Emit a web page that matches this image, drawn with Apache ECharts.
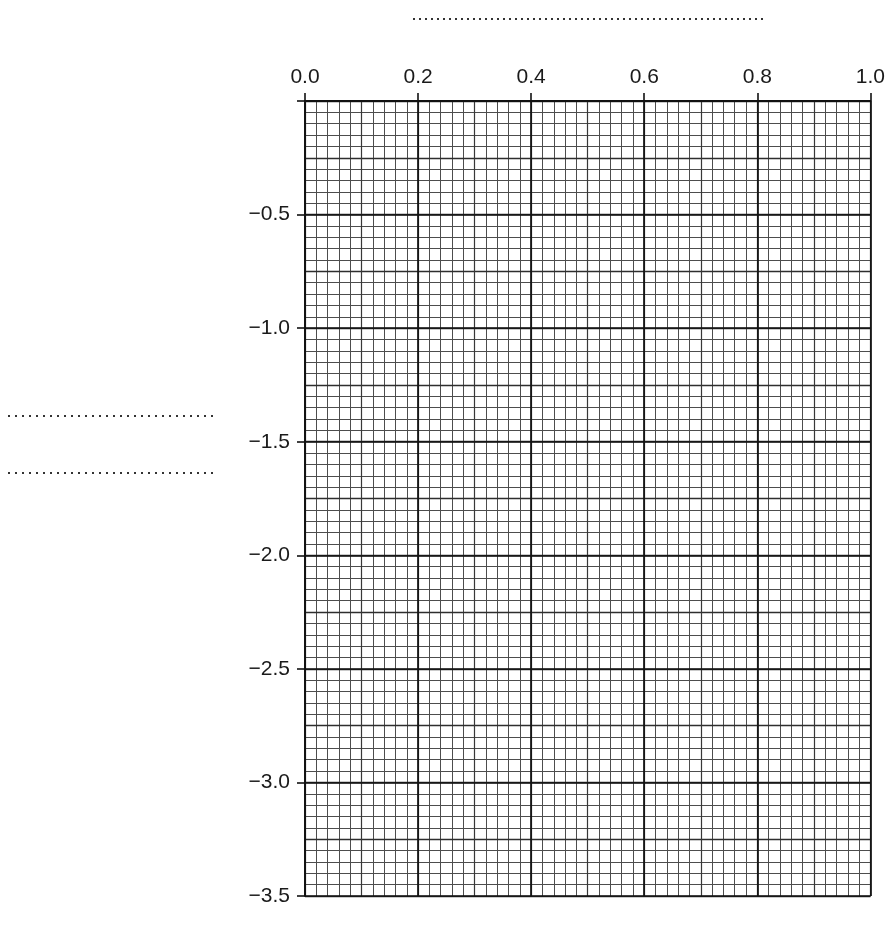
<!DOCTYPE html>
<html>
<head>
<meta charset="utf-8">
<style>
  html, body { margin: 0; padding: 0; background: #fff; }
  #main { width: 888px; height: 927px; }
</style>
<script src="https://cdn.jsdelivr.net/npm/echarts@6/dist/echarts.min.js"></script>
</head>
<body>
<div id="main"></div>
<script>
// axis ranges
var xRange = [0, 1];
var yRange = [-3.5, 0];
// grid steps: major, medium, minor
var xSteps = [0.2, 0.1, 0.02];
var ySteps = [0.5, 0.25, 0.05];
// tick labels
var xTickLabels = ["0.0", "0.2", "0.4", "0.6", "0.8", "1.0"];
var yTickLabels = ["", "\u22120.5", "\u22121.0", "\u22121.5", "\u22122.0", "\u22122.5", "\u22123.0", "\u22123.5"];

var font = "'Liberation Sans', Arial, Helvetica, sans-serif";

// 隐藏的辅助轴，只用来画网格线
function gridAxis(range, step, color, width, z, pos) {
  return {
    type: "value",
    min: range[0],
    max: range[1],
    interval: step,
    position: pos,
    z: z,
    axisLine: { show: false },
    axisTick: { show: false },
    axisLabel: { show: false },
    splitLine: { show: true, lineStyle: { color: color, width: width } },
  };
}

var xMain = {
  type: "value",
  min: xRange[0],
  max: xRange[1],
  interval: xSteps[0],
  position: "top",
  z: 5,
  axisLine: { show: true, lineStyle: { color: "#111", width: 1.8 } },
  axisTick: { show: true, length: 8, lineStyle: { color: "#111", width: 1.6 } },
  axisLabel: {
    show: true,
    margin: 13,
    color: "#1a1a1a",
    fontSize: 21,
    fontFamily: font,
    formatter: function (v) {
      return xTickLabels[Math.round((v - xRange[0]) / xSteps[0])];
    },
  },
  splitLine: { show: true, lineStyle: { color: "#111", width: 1.7 } },
};

var yMain = {
  type: "value",
  min: yRange[0],
  max: yRange[1],
  interval: ySteps[0],
  position: "left",
  z: 5,
  axisLine: { show: true, lineStyle: { color: "#111", width: 1.8 } },
  axisTick: { show: true, length: 8, lineStyle: { color: "#111", width: 1.6 } },
  axisLabel: {
    show: true,
    margin: 15,
    color: "#1a1a1a",
    fontSize: 21,
    fontFamily: font,
    formatter: function (v) {
      return yTickLabels[Math.round((yRange[1] - v) / ySteps[0])];
    },
  },
  splitLine: { show: true, lineStyle: { color: "#111", width: 1.7 } },
};

var myChart = echarts.init(document.getElementById("main"));
var option = {
  backgroundColor: "#fff",
  animation: false,
  grid: { left: 305, right: 16, top: 101, bottom: 31, containLabel: false },
  xAxis: [
    xMain,
    gridAxis(xRange, xSteps[1], "#383838", 1.2, 3, "top"),
    gridAxis(xRange, xSteps[2], "#4d4d4d", 1, 1, "top"),
  ],
  yAxis: [
    yMain,
    gridAxis(yRange, ySteps[1], "#2e2e2e", 1.3, 3, "left"),
    gridAxis(yRange, ySteps[2], "#4d4d4d", 1, 1, "left"),
  ],
  series: [
    { type: "scatter", xAxisIndex: 0, yAxisIndex: 0, data: [] },
    { type: "scatter", xAxisIndex: 1, yAxisIndex: 1, data: [] },
    { type: "scatter", xAxisIndex: 2, yAxisIndex: 2, data: [] },
  ],
  // 填写用的虚线（标题、轴名）
  graphic: [
    {
      type: "line",
      shape: { x1: 413, y1: 19, x2: 766, y2: 19 },
      style: { stroke: "#333", lineWidth: 2, lineDash: [2, 4] },
    },
    {
      type: "line",
      shape: { x1: 8, y1: 416, x2: 213, y2: 416 },
      style: { stroke: "#333", lineWidth: 2, lineDash: [2, 5] },
    },
    {
      type: "line",
      shape: { x1: 8, y1: 473, x2: 213, y2: 473 },
      style: { stroke: "#333", lineWidth: 2, lineDash: [2, 5] },
    },
  ],
};
myChart.setOption(option);
</script>
</body>
</html>
